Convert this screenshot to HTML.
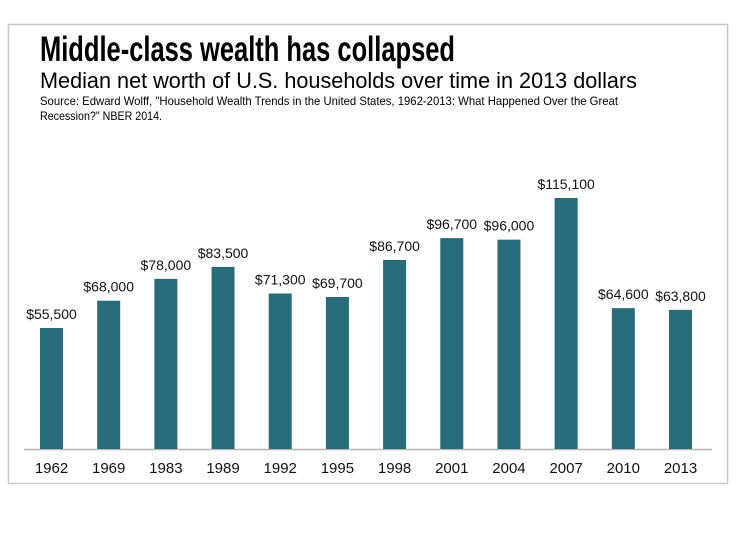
<!DOCTYPE html>
<html><head><meta charset="utf-8"><style>
html,body{margin:0;padding:0;background:#fff;}
svg{display:block;}
</style></head><body>
<svg id="chart" width="745" height="542" viewBox="0 0 745 542" xmlns="http://www.w3.org/2000/svg">
<rect x="8.5" y="24.5" width="719" height="459" fill="#fff" stroke="#c8c8c8" stroke-width="1.5"/>
<text x="40" y="61" font-family="'Liberation Sans Narrow','Liberation Sans',sans-serif" font-weight="bold" font-size="35" textLength="415" lengthAdjust="spacingAndGlyphs" fill="#000">Middle-class wealth has collapsed</text>
<text x="40" y="88" font-family="'Liberation Sans',sans-serif" font-size="22" textLength="597" lengthAdjust="spacingAndGlyphs" fill="#000">Median net worth of U.S. households over time in 2013 dollars</text>
<text x="40" y="105" font-family="'Liberation Sans',sans-serif" font-size="12" textLength="578" lengthAdjust="spacingAndGlyphs" fill="#000">Source: Edward Wolff, "Household Wealth Trends in the United States, 1962-2013: What Happened Over the Great</text>
<text x="40" y="120" font-family="'Liberation Sans',sans-serif" font-size="12" textLength="122" lengthAdjust="spacingAndGlyphs" fill="#000">Recession?" NBER 2014.</text>
<line x1="24" y1="449.5" x2="712" y2="449.5" stroke="#b5b5b5" stroke-width="1.5"/>
<g id="bars"></g>
</svg>
<script>
const categories = ["1962","1969","1983","1989","1992","1995","1998","2001","2004","2007","2010","2013"];
const values = [55500,68000,78000,83500,71300,69700,86700,96700,96000,115100,64600,63800];
const valueLabels = ["$55,500","$68,000","$78,000","$83,500","$71,300","$69,700","$86,700","$96,700","$96,000","$115,100","$64,600","$63,800"];

const NS = "http://www.w3.org/2000/svg";
const baseY = 449;
const pxPerDollar = 251 / 115100;
function yScale(v){ return baseY - v * pxPerDollar; }
function xCenter(i){ return 51.5 + i * (629 / 11); }
const barW = 23;
const g = document.getElementById("bars");
categories.forEach((c, i) => {
  const cx = xCenter(i);
  const top = yScale(values[i]);
  const r = document.createElementNS(NS, "rect");
  r.setAttribute("x", cx - barW / 2);
  r.setAttribute("y", top);
  r.setAttribute("width", barW);
  r.setAttribute("height", baseY - top);
  r.setAttribute("fill", "#286b7a");
  
  
  g.appendChild(r);

  const t = document.createElementNS(NS, "text");
  t.setAttribute("x", cx);
  t.setAttribute("y", top - 9);
  t.setAttribute("text-anchor", "middle");
  t.setAttribute("font-family", "'Liberation Sans',sans-serif");
  t.setAttribute("font-size", "14");
  t.setAttribute("fill", "#111");
  t.textContent = valueLabels[i];
  
  
  g.appendChild(t);

  const y = document.createElementNS(NS, "text");
  y.setAttribute("x", cx);
  y.setAttribute("y", 473);
  y.setAttribute("text-anchor", "middle");
  y.setAttribute("font-family", "'Liberation Sans Narrow','Liberation Sans',sans-serif");
  y.setAttribute("font-size", "15");
  y.setAttribute("fill", "#111");
  y.textContent = c;
  
  
  g.appendChild(y);
});
</script>
</body></html>
